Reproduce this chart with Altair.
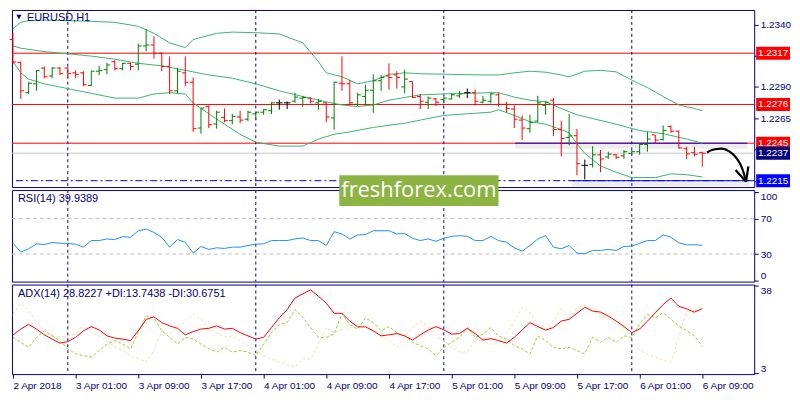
import json
import altair as alt
import pandas as pd

# ---------------- data ----------------
opens = [1.23280, 1.23097, 1.22854, 1.22925, 1.23051, 1.22988, 1.23051, 1.23051, 1.23013, 1.23013,
         1.22912, 1.23026, 1.23039, 1.23102, 1.23046, 1.23089, 1.23082, 1.23228, 1.23236, 1.23170,
         1.23064, 1.22869, 1.23013, 1.22938, 1.22571, 1.22743, 1.22604, 1.22655, 1.22630, 1.22660,
         1.22642, 1.22685, 1.22698, 1.22710, 1.22773, 1.22773, 1.22786, 1.22811, 1.22811, 1.22773,
         1.22773, 1.22652, 1.22930, 1.22925, 1.22761, 1.22824, 1.22874, 1.22950, 1.22988, 1.22996,
         1.22900, 1.22943, 1.22824, 1.22778, 1.22804, 1.22799, 1.22804, 1.22829, 1.22854, 1.22854,
         1.22778, 1.22786, 1.22837, 1.22761, 1.22723, 1.22635, 1.22566, 1.22627, 1.22753, 1.22794,
         1.22559, 1.22496, 1.22510, 1.22273, 1.22280, 1.22357, 1.22340, 1.22357, 1.22349, 1.22369,
         1.22382, 1.22440, 1.22516, 1.22480, 1.22584, 1.22546, 1.22405, 1.22374, 1.22374]
highs = [1.23334, 1.23102, 1.22938, 1.23033, 1.23064, 1.23059, 1.23059, 1.23059, 1.23033, 1.23026,
         1.23031, 1.23069, 1.23094, 1.23114, 1.23094, 1.23094, 1.23246, 1.23362, 1.23304, 1.23177,
         1.23145, 1.23051, 1.23145, 1.22975, 1.22731, 1.22753, 1.22710, 1.22728, 1.22685, 1.22710,
         1.22710, 1.22698, 1.22723, 1.22778, 1.22799, 1.22784, 1.22854, 1.22829, 1.22816, 1.22804,
         1.22778, 1.22943, 1.23145, 1.22958, 1.22854, 1.22917, 1.23001, 1.22996, 1.23089, 1.23026,
         1.23039, 1.22943, 1.22844, 1.22824, 1.22811, 1.22824, 1.22849, 1.22869, 1.22887, 1.22879,
         1.22829, 1.22854, 1.22854, 1.22781, 1.22753, 1.22672, 1.22677, 1.22829, 1.22786, 1.22811,
         1.22627, 1.22685, 1.22564, 1.22319, 1.22425, 1.22395, 1.22382, 1.22364, 1.22395, 1.22395,
         1.22450, 1.22539, 1.22516, 1.22592, 1.22592, 1.22551, 1.22420, 1.22420, 1.22382]
lows = [1.23082, 1.22804, 1.22844, 1.22869, 1.22970, 1.22970, 1.22996, 1.22970, 1.22970, 1.22907,
        1.22907, 1.22996, 1.23001, 1.23033, 1.23033, 1.23033, 1.23033, 1.23185, 1.23127, 1.23026,
        1.22844, 1.22849, 1.22907, 1.22541, 1.22526, 1.22571, 1.22566, 1.22617, 1.22602, 1.22609,
        1.22627, 1.22635, 1.22677, 1.22683, 1.22718, 1.22723, 1.22773, 1.22741, 1.22768, 1.22718,
        1.22617, 1.22559, 1.22869, 1.22753, 1.22748, 1.22753, 1.22693, 1.22869, 1.22879, 1.22887,
        1.22849, 1.22811, 1.22723, 1.22723, 1.22748, 1.22768, 1.22799, 1.22811, 1.22811, 1.22753,
        1.22768, 1.22768, 1.22743, 1.22698, 1.22571, 1.22475, 1.22533, 1.22617, 1.22677, 1.22508,
        1.22344, 1.22433, 1.22193, 1.22160, 1.22256, 1.22218, 1.22324, 1.22324, 1.22324, 1.22357,
        1.22357, 1.22382, 1.22450, 1.22470, 1.22533, 1.22407, 1.22324, 1.22344, 1.22263]
closes = [1.23100, 1.22869, 1.22930, 1.23031, 1.22981, 1.23051, 1.23006, 1.23006, 1.23001, 1.22917,
          1.23026, 1.23031, 1.23076, 1.23046, 1.23089, 1.23064, 1.23228, 1.23236, 1.23170, 1.23064,
          1.22869, 1.23026, 1.22938, 1.22566, 1.22731, 1.22597, 1.22698, 1.22630, 1.22665, 1.22635,
          1.22698, 1.22698, 1.22718, 1.22773, 1.22773, 1.22773, 1.22819, 1.22816, 1.22786, 1.22786,
          1.22660, 1.22938, 1.22925, 1.22773, 1.22837, 1.22874, 1.22950, 1.22975, 1.22975, 1.22975,
          1.22963, 1.22816, 1.22786, 1.22811, 1.22778, 1.22811, 1.22837, 1.22844, 1.22854, 1.22786,
          1.22794, 1.22844, 1.22761, 1.22728, 1.22642, 1.22571, 1.22617, 1.22773, 1.22778, 1.22559,
          1.22488, 1.22508, 1.22286, 1.22273, 1.22357, 1.22324, 1.22362, 1.22337, 1.22382, 1.22382,
          1.22440, 1.22483, 1.22475, 1.22551, 1.22546, 1.22412, 1.22364, 1.22362, 1.22370]

bb_upper_bar = [0, 1, 2, 4, 7, 10, 13, 16, 18, 20, 22, 23, 24, 26, 28, 31, 34, 37, 39, 40, 42, 44,
                46, 48, 50, 52, 56, 60, 62, 64, 66, 68, 70, 71, 73, 75, 77, 79, 81, 83, 85, 87, 88]
bb_upper = [1.23367, 1.23417, 1.23430, 1.23435, 1.23430, 1.23425, 1.23417, 1.23385, 1.23329, 1.23253,
            1.23215, 1.23279, 1.23296, 1.23329, 1.23339, 1.23334, 1.23324, 1.23253, 1.23102, 1.23013,
            1.22981, 1.22925, 1.22950, 1.23001, 1.23013, 1.23006, 1.23001, 1.22996, 1.22996, 1.23013,
            1.23026, 1.23018, 1.22996, 1.22981, 1.23026, 1.23033, 1.23021, 1.22955, 1.22895, 1.22824,
            1.22756, 1.22728, 1.22710]
bb_mid_bar = [0, 1, 4, 7, 10, 13, 16, 19, 22, 25, 28, 31, 34, 37, 40, 42, 44, 46, 48, 50, 52, 55,
              58, 61, 62, 64, 66, 68, 70, 72, 74, 77, 80, 83, 86, 88]
bb_mid = [1.23228, 1.23210, 1.23183, 1.23165, 1.23147, 1.23122, 1.23089, 1.23069, 1.23033, 1.22996,
          1.22970, 1.22925, 1.22869, 1.22824, 1.22781, 1.22756, 1.22743, 1.22756, 1.22794, 1.22816,
          1.22837, 1.22844, 1.22849, 1.22854, 1.22854, 1.22819, 1.22794, 1.22781, 1.22728, 1.22677,
          1.22647, 1.22602, 1.22551, 1.22526, 1.22483, 1.22450]
bb_lower_bar = [0, 1, 2, 4, 7, 10, 13, 16, 18, 20, 22, 23, 25, 27, 29, 31, 34, 37, 39, 41, 43, 46,
                49, 50, 52, 55, 58, 61, 62, 64, 66, 68, 70, 71, 72, 73, 75, 77, 79, 82, 84, 86, 88]
bb_lower = [1.23102, 1.23013, 1.22963, 1.22925, 1.22887, 1.22849, 1.22811, 1.22811, 1.22844, 1.22854,
            1.22844, 1.22773, 1.22685, 1.22602, 1.22521, 1.22458, 1.22427, 1.22427, 1.22483, 1.22521,
            1.22541, 1.22576, 1.22602, 1.22609, 1.22635, 1.22672, 1.22685, 1.22698, 1.22718, 1.22672,
            1.22622, 1.22602, 1.22559, 1.22533, 1.22445, 1.22369, 1.22268, 1.22218, 1.22175, 1.22175,
            1.22205, 1.22198, 1.22180]

rsi = [42.2, 32.2, 35.9, 41.5, 40.7, 43.0, 42.2, 41.9, 41.1, 37.8,
       45.2, 45.2, 47.0, 46.3, 49.6, 48.9, 56.3, 58.1, 54.4, 48.9,
       37.8, 46.3, 43.3, 31.1, 38.5, 35.2, 37.0, 36.3, 37.8, 37.8,
       39.6, 41.1, 41.5, 45.2, 45.2, 45.2, 47.0, 48.1, 45.2, 45.2,
       39.6, 55.2, 52.6, 47.0, 51.5, 51.9, 56.3, 56.3, 56.3, 52.6,
       53.3, 47.8, 45.2, 47.0, 44.4, 47.8, 50.0, 50.7, 50.0, 45.2,
       45.2, 50.0, 45.2, 43.3, 37.0, 33.3, 39.6, 47.0, 50.7, 37.8,
       35.9, 39.6, 31.1, 30.4, 34.1, 34.1, 35.2, 34.1, 38.5, 38.9,
       42.2, 45.2, 45.2, 51.5, 48.9, 42.6, 40.4, 40.4, 39.9]
adx = [18.2, 20.6, 22.5, 20.6, 18.3, 16.6, 15.0, 15.6, 17.3, 19.9,
       21.6, 20.3, 17.9, 17.0, 16.6, 16.0, 19.9, 24.5, 25.5, 23.2,
       21.9, 20.9, 18.3, 19.6, 20.6, 20.9, 21.9, 20.6, 20.9, 19.2,
       17.9, 16.6, 17.3, 21.2, 25.1, 28.4, 33.0, 34.7, 36.3, 33.7,
       31.0, 26.9, 26.9, 23.8, 21.5, 21.5, 19.9, 17.9, 18.3, 18.8,
       17.9, 16.2, 18.3, 20.2, 21.6, 20.3, 18.6, 18.8, 20.9, 18.8,
       16.2, 16.8, 16.0, 15.0, 17.3, 20.2, 23.2, 21.6, 20.2, 21.2,
       23.8, 24.5, 26.9, 29.3, 27.8, 27.4, 25.8, 23.8, 21.6, 19.2,
       20.6, 23.8, 27.1, 30.4, 33.0, 29.7, 28.7, 27.4, 28.8]
plus_di = [17.3, 15.3, 13.3, 17.3, 19.9, 17.9, 16.0, 12.7, 10.7, 10.0,
           9.4, 12.0, 14.6, 16.0, 14.6, 12.7, 19.2, 25.8, 25.1, 19.9,
           17.3, 14.6, 17.3, 16.6, 14.6, 12.7, 11.4, 13.3, 11.4, 12.0,
           11.4, 10.0, 14.6, 19.2, 22.5, 23.2, 28.4, 25.4, 21.2, 17.3,
           17.3, 18.6, 26.9, 22.3, 20.6, 25.1, 23.2, 19.9, 21.6, 19.2,
           17.9, 15.3, 14.0, 12.7, 10.0, 13.3, 15.3, 17.3, 21.2, 17.3,
           18.6, 21.2, 17.9, 16.6, 14.0, 12.7, 10.7, 17.9, 16.0, 13.3,
           12.7, 13.3, 12.0, 10.7, 17.3, 15.3, 17.3, 15.3, 17.9, 17.3,
           22.5, 26.5, 25.1, 27.1, 24.5, 21.9, 19.9, 17.9, 13.7]
minus_di = [26.5, 31.0, 27.8, 23.8, 19.9, 17.9, 17.5, 17.9, 18.6, 22.5,
            19.2, 17.9, 16.0, 13.3, 12.0, 10.0, 8.7, 7.4, 12.0, 19.9,
            18.6, 21.2, 23.8, 26.5, 24.5, 20.6, 19.2, 17.3, 17.9, 16.0,
            14.0, 12.0, 10.0, 8.7, 7.4, 6.5, 5.4, 8.7, 8.7, 14.6,
            21.2, 19.2, 20.6, 21.2, 22.5, 22.5, 19.9, 17.3, 16.0, 13.3,
            17.3, 21.2, 23.8, 21.9, 17.9, 16.0, 13.3, 11.4, 11.4, 16.6,
            16.0, 14.6, 15.3, 18.6, 23.8, 29.1, 27.1, 22.5, 19.9, 23.8,
            29.1, 25.1, 29.1, 30.4, 28.4, 25.1, 25.8, 22.5, 19.2, 16.0,
            12.0, 10.7, 9.4, 8.1, 7.4, 17.3, 27.8, 27.1, 30.7]

tick_bars = [0, 8, 16, 24, 32, 40, 48, 56, 64, 72, 80, 88]
tick_labels = ["2 Apr 2018", "3 Apr 01:00", "3 Apr 09:00", "3 Apr 17:00", "4 Apr 01:00",
               "4 Apr 09:00", "4 Apr 17:00", "5 Apr 01:00", "5 Apr 09:00", "5 Apr 17:00",
               "6 Apr 01:00", "6 Apr 09:00"]
day_breaks = [7, 31, 55, 79]
price_ticks = [1.2215, 1.2240, 1.2265, 1.2290, 1.2315, 1.2340]
price_ticks_covered = [1.2215, 1.2240, 1.2315]   # labels hidden behind the level boxes
red_levels = [1.2317, 1.2276, 1.2245]
bid_level = [1.2237]
dashdot_level = [1.2215]
trend_start = [64.1, 71.4]
trend_end = [93.75, 94.0]
trend_price = [1.2245, 1.2215]
box_prices = [1.2317, 1.2276, 1.2245, 1.2237, 1.2215]
box_labels = ["1.2317", "1.2276", "1.2245", "1.2237", "1.2215"]
box_colors = ["#ff0000", "#ff0000", "#ff0000", "#000080", "#0000ff"]
arrow_bar = [88.59, 89.21, 90.46, 91.5, 92.34, 92.96, 93.38, 93.59]
arrow_price = [1.22374, 1.22395, 1.22407, 1.22382, 1.22332, 1.22268, 1.22192, 1.22142]
head_bar = [92.25, 93.88]
head_price = [1.22236, 1.22264]
rsi_levels = [30, 70]
rsi_ticks = [0, 30, 70, 100]
adx_ticks = [3, 38]

# ---------------- layout / style ----------------
W = 746
HP, HR, HA = 178, 92, 90
NAVY = "#000080"
FONT = "Liberation Sans"
BOX = "M-1,-0.382H1V0.382H-1Z"

xsc = alt.Scale(domain=[-0.125, 94.625], nice=False, zero=False)
psc = alt.Scale(domain=[1.22099, 1.23516], nice=False, zero=False)
rsc = alt.Scale(domain=[-1.1, 102.2], nice=False, zero=False)
asc = alt.Scale(domain=[2.6, 38.4], nice=False, zero=False)


def raxis(values, label_expr=None, flush=None):
    kw = dict(orient="right", values=values, title=None, grid=False, domain=False,
              tickSize=4, tickColor=NAVY, labelColor=NAVY, labelFont=FONT,
              labelFontSize=10, labelPadding=2)
    if label_expr:
        kw["labelExpr"] = label_expr
    if flush is not None:
        kw["labelFlush"] = flush
    return alt.Axis(**kw)


price_label_expr = ("indexof(" + json.dumps(price_ticks_covered) +
                    ", datum.value) >= 0 ? '' : format(datum.value, '.4f')")
price_axis = raxis(price_ticks, label_expr=price_label_expr)
rsi_axis = raxis(rsi_ticks, flush=4)
adx_axis = raxis(adx_ticks, flush=4)
label_expr = json.dumps(tick_labels) + "[round(datum.value / 8)]"
xaxis = alt.Axis(orient="bottom", values=tick_bars, labelExpr=label_expr, title=None, grid=False,
                 domain=False, tickSize=4, tickColor=NAVY, labelColor=NAVY, labelFont=FONT,
                 labelFontSize=10, labelAlign="left", labelPadding=2, labelFlush=False,
                 labelOverlap=False)

one = pd.DataFrame({"t": [""]})
X = lambda f: alt.X(f, scale=xsc, axis=None)
XA = lambda f: alt.X(f, scale=xsc, axis=xaxis)
PY = lambda f: alt.Y(f, scale=psc, axis=price_axis)
RY = lambda f: alt.Y(f, scale=rsc, axis=rsi_axis)
AY = lambda f: alt.Y(f, scale=asc, axis=adx_axis)

# ---------------- price panel ----------------
bars = pd.DataFrame({"i": list(range(len(opens))), "open": opens, "high": highs,
                     "low": lows, "close": closes})
base = alt.Chart(bars).transform_calculate(
    dir="datum.close > datum.open ? 'up' : (datum.close < datum.open ? 'down' : 'flat')",
    xl="datum.i - 0.42", xr="datum.i + 0.42")
col = alt.Color("dir:N", scale=alt.Scale(domain=["up", "down", "flat"],
                range=["#008000", "#ff0000", "#000000"]), legend=None)

red_lines = alt.Chart(pd.DataFrame({"p": red_levels})).mark_rule(color="#ff0000").encode(y=PY("p:Q"))
bid_line = alt.Chart(pd.DataFrame({"p": bid_level})).mark_rule(color="#c8c8c8").encode(y=PY("p:Q"))
dd_line = alt.Chart(pd.DataFrame({"p": dashdot_level})).mark_rule(
    color="#0000b4", strokeDash=[7, 3, 2, 3]).encode(y=PY("p:Q"))
seps = alt.Chart(pd.DataFrame({"i": day_breaks})).mark_rule(
    color=NAVY, strokeDash=[3, 3]).encode(x=X("i:Q"))

trend = pd.DataFrame({"x0": trend_start, "x1": trend_end, "p": trend_price})
trend_shadow = alt.Chart(trend).mark_rule(color="#9a9a9a", strokeWidth=5, opacity=0.18,
                                          yOffset=3).encode(x=X("x0:Q"), x2="x1:Q", y=PY("p:Q"))
trend_lines = alt.Chart(trend).mark_rule(color="#0000e0").encode(x=X("x0:Q"), x2="x1:Q", y=PY("p:Q"))

bb = pd.concat([
    pd.DataFrame({"band": "upper", "i": bb_upper_bar, "p": bb_upper}),
    pd.DataFrame({"band": "mid", "i": bb_mid_bar, "p": bb_mid}),
    pd.DataFrame({"band": "lower", "i": bb_lower_bar, "p": bb_lower}),
])
bands = alt.Chart(bb).mark_line(color="#3cb371", strokeWidth=1).encode(
    x=X("i:Q"), y=PY("p:Q"), detail="band:N")

hl = base.mark_rule(strokeWidth=1).encode(x=X("i:Q"), y=PY("low:Q"), y2="high:Q", color=col)
ot = base.mark_rule(strokeWidth=1).encode(x=X("xl:Q"), x2="i:Q", y=PY("open:Q"), color=col)
ct = base.mark_rule(strokeWidth=1).encode(x=X("i:Q"), x2="xr:Q", y=PY("close:Q"), color=col)

arrow = alt.Chart(pd.DataFrame({"i": arrow_bar, "p": arrow_price, "k": list(range(len(arrow_bar)))})
                  ).mark_line(color="black", strokeWidth=2.2, interpolate="monotone").encode(
    x=X("i:Q"), y=PY("p:Q"), order="k:Q")
head = alt.Chart(pd.DataFrame({"i": head_bar, "p": head_price,
                               "ti": [arrow_bar[-1]] * 2, "tp": [arrow_price[-1]] * 2})
                 ).mark_rule(color="black", strokeWidth=2.2).encode(
    x=X("i:Q"), y=PY("p:Q"), x2="ti:Q", y2="tp:Q")

boxes_df = pd.DataFrame({"p": box_prices, "label": box_labels, "bg": box_colors})
boxes = alt.Chart(boxes_df).mark_point(shape=BOX, size=34 * 34, filled=True, opacity=1,
                                       strokeWidth=0).encode(
    x=alt.value(W + 19), y=PY("p:Q"), fill=alt.Fill("bg:N", scale=None))
box_txt = alt.Chart(boxes_df).mark_text(color="white", fontSize=10, font=FONT).encode(
    x=alt.value(W + 19), y=PY("p:Q"), text="label:N")

tri = alt.Chart(one).mark_point(shape="triangle-down", size=28, filled=True, color=NAVY,
                                opacity=1).encode(x=alt.value(7), y=alt.value(7))
ptitle = alt.Chart(pd.DataFrame({"t": ["EURUSD,H1"]})).mark_text(
    align="left", baseline="middle", color=NAVY, fontSize=11, font=FONT).encode(
    x=alt.value(15), y=alt.value(8), text="t:N")

price = alt.layer(red_lines, bid_line, dd_line, seps, trend_shadow, trend_lines, bands,
                  hl, ot, ct, arrow, head, boxes, box_txt, tri, ptitle).properties(width=W, height=HP)

# ---------------- RSI panel ----------------
rsi_df = pd.DataFrame({"i": list(range(len(rsi))), "v": rsi})
rsi_lv = alt.Chart(pd.DataFrame({"v": rsi_levels})).mark_rule(
    color="#c0c0c0", strokeDash=[4, 3]).encode(y=RY("v:Q"))
rsi_line = alt.Chart(rsi_df).mark_line(color="#1e90ff", strokeWidth=1).encode(
    x=X("i:Q"), y=RY("v:Q"))
rtitle = alt.Chart(pd.DataFrame({"t": ["RSI(14) 39.9389"]})).mark_text(
    align="left", baseline="middle", color=NAVY, fontSize=11, font=FONT).encode(
    x=alt.value(6), y=alt.value(9), text="t:N")
rsi_panel = alt.layer(rsi_lv, seps, rsi_line, rtitle).properties(width=W, height=HR)

# ---------------- ADX panel ----------------
adx_df = pd.DataFrame({"i": list(range(len(adx))), "adx": adx, "pdi": plus_di, "mdi": minus_di})
adx_seps = alt.Chart(pd.DataFrame({"i": day_breaks})).mark_rule(
    color=NAVY, strokeDash=[3, 3]).encode(x=XA("i:Q"))
mdi_line = alt.Chart(adx_df).mark_line(color="#f5deb3", strokeWidth=1, strokeDash=[3, 2]).encode(
    x=XA("i:Q"), y=AY("mdi:Q"))
pdi_line = alt.Chart(adx_df).mark_line(color="#9acd32", strokeWidth=1, strokeDash=[3, 2]).encode(
    x=XA("i:Q"), y=AY("pdi:Q"))
adx_line = alt.Chart(adx_df).mark_line(color="#ff0000", strokeWidth=1).encode(
    x=XA("i:Q"), y=AY("adx:Q"))
atitle = alt.Chart(pd.DataFrame({"t": ["ADX(14) 28.8227 +DI:13.7438 -DI:30.6751"]})).mark_text(
    align="left", baseline="middle", color=NAVY, fontSize=11, font=FONT).encode(
    x=alt.value(6), y=alt.value(9), text="t:N")
wm_box = alt.Chart(one).mark_rect(color="#8db443", clip=False).encode(
    x=alt.value(329), x2=alt.value(489), y=alt.value(-110), y2=alt.value(-79))
wm_txt = alt.Chart(pd.DataFrame({"t": ["freshforex.com"]})).mark_text(
    color="white", fontSize=22, font="Open Sans", baseline="middle", align="center",
    clip=False).encode(x=alt.value(409), y=alt.value(-95), text="t:N")
adx_panel = alt.layer(adx_seps, mdi_line, pdi_line, adx_line, atitle, wm_box, wm_txt
                      ).properties(width=W, height=HA)

chart = alt.vconcat(price, rsi_panel, adx_panel, spacing=3, bounds="flush",
                    padding=0, background="white").configure_view(
    stroke=NAVY, strokeWidth=1)

chart.save("out.html", embed_options={"renderer": "svg", "actions": False})
